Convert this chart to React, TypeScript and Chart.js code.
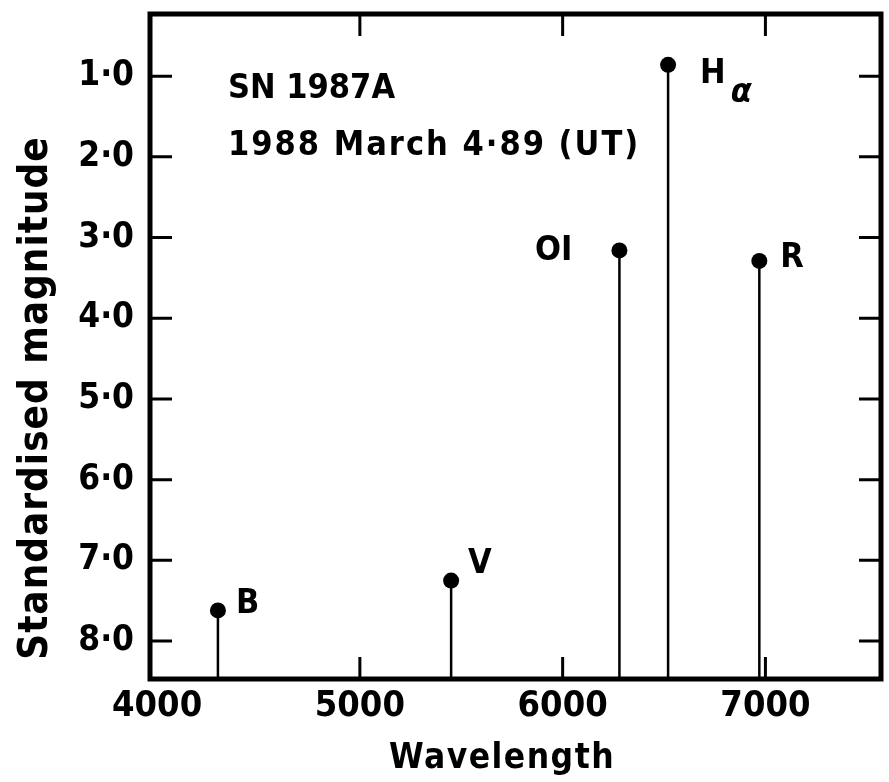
import React, { useEffect, useRef } from "react";
import { Chart, registerables } from "chart.js";

Chart.register(...registerables);

// Data
const lineNames = ["B", "V", "OI", "Hα", "R"];
const wavelengths = [4300, 5450, 6280, 6520, 6970];
const magnitudes = [7.62, 7.25, 3.16, 0.86, 3.29];
const yTickValues = [1, 2, 3, 4, 5, 6, 7, 8];
const xTickValues = [4000, 5000, 6000, 7000];
const innerXTicks = [5000, 6000, 7000];
const X_MIN = 3965;
const X_MAX = 7570;
const Y_MIN = 0.23;
const Y_MAX = 8.47;
const noteLines = ["SN 1987A", "1988 March 4·89 (UT)"];
const xTitle = "Wavelength";
const yTitle = "Standardised magnitude";

const FONT = "'DejaVu Sans Condensed', 'DejaVu Sans', sans-serif";
const WEIGHT = "bold";

// label offsets (pixels from the marker), styling only
const labelOffsets: Record<string, { dx: number; dy: number; align: CanvasTextAlign }> = {
  B: { dx: 18, dy: -6, align: "left" },
  V: { dx: 17, dy: -16, align: "left" },
  OI: { dx: -47, dy: 1, align: "right" },
  "Hα": { dx: 32, dy: 9, align: "left" },
  R: { dx: 21, dy: -3, align: "left" },
};

const framePlugin = {
  id: "framePlugin",
  afterDraw(chart: any) {
    const { ctx, chartArea } = chart;
    const xs = chart.scales.x;
    const ys = chart.scales.y;
    ctx.save();
    ctx.strokeStyle = "#000";
    ctx.lineWidth = 5;
    ctx.strokeRect(chartArea.left, chartArea.top, chartArea.right - chartArea.left, chartArea.bottom - chartArea.top);
    // inward ticks
    ctx.lineWidth = 3;
    const tl = 22;
    for (const v of yTickValues) {
      const py = ys.getPixelForValue(v);
      ctx.beginPath();
      ctx.moveTo(chartArea.left, py);
      ctx.lineTo(chartArea.left + tl, py);
      ctx.moveTo(chartArea.right, py);
      ctx.lineTo(chartArea.right - tl, py);
      ctx.stroke();
    }
    for (const v of innerXTicks) {
      const px = xs.getPixelForValue(v);
      ctx.beginPath();
      ctx.moveTo(px, chartArea.top);
      ctx.lineTo(px, chartArea.top + tl);
      ctx.moveTo(px, chartArea.bottom);
      ctx.lineTo(px, chartArea.bottom - tl);
      ctx.stroke();
    }
    // line labels
    ctx.fillStyle = "#000";
    ctx.textBaseline = "middle";
    const f = `${WEIGHT} 34px ${FONT}`;
    ctx.font = f;
    lineNames.forEach((name, i) => {
      const px = xs.getPixelForValue(wavelengths[i]);
      const py = ys.getPixelForValue(magnitudes[i]);
      const o = labelOffsets[name];
      ctx.textAlign = o.align;
      if (name === "Hα") {
        ctx.fillText("H", px + o.dx, py + o.dy);
        const w = ctx.measureText("H").width;
        ctx.font = `italic ${WEIGHT} 34px ${FONT}`;
        ctx.fillText("α", px + o.dx + w + 5, py + o.dy + 19);
        ctx.font = f;
      } else {
        ctx.fillText(name, px + o.dx, py + o.dy);
      }
    });
    // annotation
    ctx.textAlign = "left";
    ctx.font = f;
    ctx.fillText(noteLines[0], chartArea.left + 78, chartArea.top + 75);
    (ctx as any).letterSpacing = "2px";
    ctx.fillText(noteLines[1], chartArea.left + 78, chartArea.top + 132);
    // axis titles
    ctx.textAlign = "center";
    ctx.textBaseline = "alphabetic";
    ctx.font = `${WEIGHT} 35px ${FONT}`;
    (ctx as any).letterSpacing = "1.5px";
    ctx.fillText(xTitle, 502, 768);
    ctx.font = `${WEIGHT} 40px ${FONT}`;
    (ctx as any).letterSpacing = "1px";
    ctx.translate(47, 398);
    ctx.rotate(-Math.PI / 2);
    ctx.fillText(yTitle, 0, 0);
    ctx.restore();
  },
};

export default function App() {
  const ref = useRef<HTMLCanvasElement | null>(null);
  useEffect(() => {
    document.body.style.margin = "0";
    const canvas = ref.current!;
    const datasets = lineNames.map((name, i) => ({
      label: name,
      data: [
        { x: wavelengths[i], y: magnitudes[i] },
        { x: wavelengths[i], y: Y_MAX },
      ],
      borderColor: "#000",
      backgroundColor: "#000",
      borderWidth: 2.5,
      pointRadius: [8, 0],
      pointBackgroundColor: "#000",
      pointBorderWidth: 0,
      showLine: true,
    }));
    const chart = new Chart(canvas, {
      type: "scatter",
      data: { datasets },
      options: {
        animation: false,
        responsive: false,
        layout: { padding: { left: 0, top: 14, right: 8, bottom: 0 } },
        plugins: { legend: { display: false }, tooltip: { enabled: false } },
        scales: {
          x: {
            type: "linear",
            min: X_MIN,
            max: X_MAX,
            afterBuildTicks(scale: any) {
              scale.ticks = xTickValues.map((v) => ({ value: v }));
            },
            afterFit(scale: any) {
              scale.height = 103;
              scale.paddingLeft = 0;
              scale.paddingRight = 0;
            },
            grid: { display: false, drawTicks: false },
            border: { display: false },
            ticks: {
              color: "#000",
              padding: 6,
              maxRotation: 0,
              autoSkip: false,
              font: { family: FONT, size: 36, weight: WEIGHT },
              callback: (v: any) => String(v),
            },
            title: { display: false, text: xTitle },
          },
          y: {
            type: "linear",
            reverse: true,
            min: Y_MIN,
            max: Y_MAX,
            afterBuildTicks(scale: any) {
              scale.ticks = yTickValues.map((v) => ({ value: v }));
            },
            afterFit(scale: any) {
              scale.width = 150;
              scale.paddingTop = 0;
              scale.paddingBottom = 0;
            },
            grid: { display: false, drawTicks: false },
            border: { display: false },
            ticks: {
              color: "#000",
              padding: 16,
              autoSkip: false,
              font: { family: FONT, size: 35, weight: WEIGHT },
              callback: (v: any) => Number(v).toFixed(1).replace(".", "·"),
            },
            title: { display: false, text: yTitle },
          },
        },
      },
      plugins: [framePlugin],
    });
    return () => chart.destroy();
  }, []);
  return (
    <div style={{ width: 889, height: 782, background: "#fff" }}>
      <canvas ref={ref} width={889} height={782} style={{ width: 889, height: 782, display: "block" }} />
    </div>
  );
}
